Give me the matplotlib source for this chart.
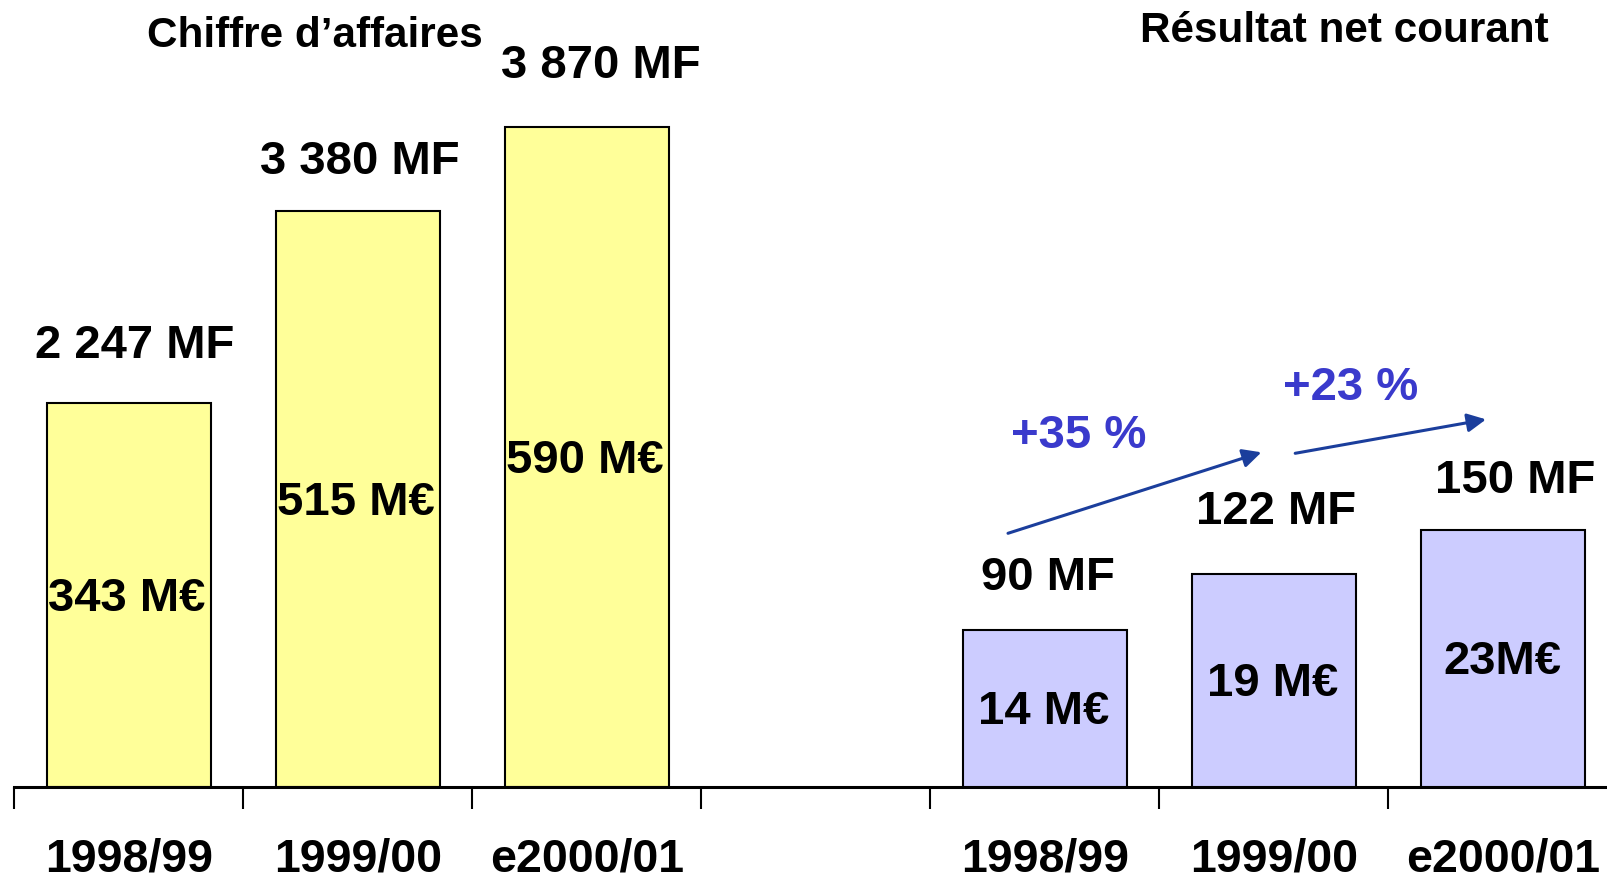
import matplotlib
matplotlib.use("Agg")
import matplotlib.pyplot as plt
import numpy as np

# sales (left group) and net profit (right group), in MF and M€
years = ["1998/99", "1999/00", "e2000/01"]
ca_mf = [2247, 3380, 3870]
ca_meur = [343, 515, 590]
ca_meur_labels = ["343 M€", "515 M€", "590 M€"]
rn_mf = [90, 122, 150]
rn_meur = [14, 19, 23]
rn_meur_labels = ["14 M€", "19 M€", "23M€"]
growth_labels = ["+35 %", "+23 %"]

W, H = 1608, 882
FONT = "Liberation Sans"
YELLOW = "#FFFF99"
LILAC = "#CCCCFF"
ARROW = "#1B3E9C"
PCT = "#3A3ACC"
DROP = 4  # pixels: puts the glyphs' visual middle on the anchor


def mf_text(v):
    return f"{v:,}".replace(",", " ") + " MF"


fig = plt.figure(figsize=(W / 100, H / 100), dpi=100)
base_y = 786.6
ax = fig.add_axes([14.4 / W, (H - base_y) / H, 1603 / W, base_y / H])
ax2 = ax.twinx()

left_x = np.arange(3)
right_x = np.arange(3) + 4
ymax = base_y / 1.1177
ax.set_ylim(0, ymax)
ax2.set_ylim(0, ymax / 10)
ax.set_xlim(-0.5, 6.5)

ax.bar(left_x, ca_meur, width=0.715, color=YELLOW, edgecolor="black", linewidth=1.5, zorder=2)
ax2.bar(right_x, rn_meur, width=0.715, color=LILAC, edgecolor="black", linewidth=1.5, zorder=2)

# values inside the bars (M€)
for x, v, s in zip(left_x, ca_meur, ca_meur_labels):
    ax.annotate(s, (x, v / 2), xytext=(-2, -DROP), textcoords="offset pixels",
                ha="center", va="center", fontsize=34, fontweight="bold", family=FONT)
for x, v, s in zip(right_x, rn_meur, rn_meur_labels):
    ax2.annotate(s, (x, v / 2), xytext=(-1, -DROP), textcoords="offset pixels",
                 ha="center", va="center", fontsize=34, fontweight="bold", family=FONT)

# values above the bars (MF), nudged by hand
ca_off = [(6, 61), (2, 53), (14, 65)]
rn_off = [(3, 56), (2, 66), (12, 53)]
for x, v, m, (dx, dy) in zip(left_x, ca_meur, ca_mf, ca_off):
    ax.annotate(mf_text(m), (x, v), xytext=(dx, dy - DROP), textcoords="offset pixels",
                ha="center", va="center", fontsize=34, fontweight="bold", family=FONT)
for x, v, m, (dx, dy) in zip(right_x, rn_meur, rn_mf, rn_off):
    ax2.annotate(mf_text(m), (x, v), xytext=(dx, dy - DROP), textcoords="offset pixels",
                 ha="center", va="center", fontsize=34, fontweight="bold", family=FONT)

# axis: only the baseline, ticks between groups, year labels under each slot
for a in (ax, ax2):
    for side in ("top", "left", "right"):
        a.spines[side].set_visible(False)
    a.set_yticks([])
ax2.spines["bottom"].set_visible(False)
ax.spines["bottom"].set_linewidth(2.2)
ax.set_xticks(np.arange(-0.5, 6.0, 1.0))
ax.set_xticklabels([])
ax.tick_params(axis="x", which="major", length=16, width=1.5, direction="out", color="black")
ax.set_xticks(list(left_x) + list(right_x), minor=True)
ax.set_xticklabels(years + years, minor=True, fontsize=33.5, fontweight="bold", family=FONT)
ax.tick_params(axis="x", which="minor", length=0, pad=37)

fig.text(314.8 / W, 1 - (31.8 + DROP) / H, "Chiffre d\u2019affaires", ha="center", va="center",
         fontsize=30.4, fontweight="bold", family=FONT)
fig.text(1344.5 / W, 1 - (26.7 + DROP) / H, "Résultat net courant", ha="center", va="center",
         fontsize=30.4, fontweight="bold", family=FONT)

# growth arrows between profit years
arrows = [((1008, 533.3), (1261.4, 452.3)), ((1295.2, 453.3), (1486, 419.4))]
for (x0, y0), (x1, y1) in arrows:
    fig.add_artist(matplotlib.patches.FancyArrowPatch(
        (x0 / W, 1 - y0 / H), (x1 / W, 1 - y1 / H), transform=fig.transFigure,
        arrowstyle="-|>", mutation_scale=28, color=ARROW, lw=2.2, shrinkA=0, shrinkB=0))
pct_pos = [(1078.3, 431.7), (1351.1, 383.5)]
for (px, py), s in zip(pct_pos, growth_labels):
    fig.text(px / W, 1 - (py + DROP) / H, s, ha="center", va="center", color=PCT,
             fontsize=34, fontweight="bold", family=FONT)

fig.savefig("out.png", dpi=100)
